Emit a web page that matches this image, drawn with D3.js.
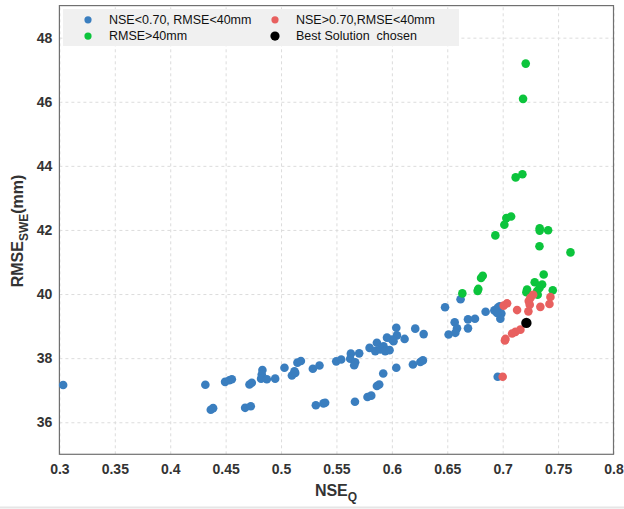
<!DOCTYPE html>
<html>
<head>
<meta charset="UTF-8">
<title>NSE vs RMSE scatter</title>
<script src="https://cdn.jsdelivr.net/npm/d3@7"></script>
<style>
  body { margin: 0; background: #fff; }
  svg { display: block; font-family: "Liberation Sans", Arial, sans-serif; }
  .grid line { stroke: #dcdcdc; stroke-dasharray: 3,3; }
  .grid .domain { display: none; }
  .tick text { font-weight: bold; font-size: 14px; fill: #333; }
</style>
</head>
<body>
<svg width="624" height="509"></svg>
<script>
// [NSE_Q, RMSE_SWE]
var bluePts = [
  [0.3034,37.16],[0.4317,37.17],[0.4366,36.39],[0.4387,36.44],[0.4495,37.26],[0.4534,37.31],
  [0.4556,37.34],[0.4676,36.45],[0.4727,36.50],[0.4715,37.18],[0.4736,37.23],[0.4832,37.63],
  [0.4826,37.49],[0.4820,37.36],[0.4872,37.34],[0.4947,37.36],[0.5031,37.70],[0.5098,37.46],
  [0.5128,37.54],[0.5121,37.59],[0.5148,37.86],[0.5179,37.91],[0.5287,37.67],[0.5347,37.77],
  [0.5498,37.90],[0.5543,37.96],[0.5630,38.14],[0.5624,37.98],[0.5669,37.87],[0.5660,37.78],
  [0.5705,38.15],[0.5799,38.32],[0.5865,38.48],[0.5850,38.22],[0.5895,38.27],[0.5925,38.37],
  [0.5940,38.22],[0.5979,38.25],[0.5956,38.64],[0.6001,38.58],[0.6040,38.95],[0.6046,38.71],
  [0.6015,38.53],[0.6115,38.60],[0.6211,38.92],[0.6287,38.75],[0.5314,36.53],[0.5383,36.59],
  [0.5398,36.61],[0.5667,36.64],[0.5780,36.79],[0.5814,36.83],[0.5865,37.13],[0.5886,37.18],
  [0.5922,37.52],[0.6040,37.70],[0.6190,37.80],[0.6257,37.88],[0.6280,37.93],[0.6480,39.59],
  [0.6620,39.84],[0.6846,39.45],[0.6925,39.49],[0.6955,39.57],[0.6973,39.62],[0.6988,39.39],
  [0.6979,39.23],[0.6949,39.41],[0.6687,39.21],[0.6750,39.23],[0.6687,38.93],[0.6567,39.12],
  [0.6588,38.93],[0.6573,38.79],[0.6512,38.74],[0.6955,37.42]
];
var greenPts = [
  [0.7208,47.19],[0.7184,46.09],[0.7117,43.64],[0.7178,43.74],[0.7033,42.37],[0.7076,42.42],
  [0.7015,42.16],[0.7334,42.05],[0.7410,41.99],[0.7334,41.98],[0.6934,41.83],[0.7332,41.49],
  [0.7612,41.30],[0.6820,40.57],[0.6805,40.50],[0.7370,40.61],[0.6774,40.10],[0.6780,40.16],
  [0.6636,40.02],[0.7289,40.37],[0.7356,40.30],[0.7332,40.19],[0.7220,40.14],[0.7214,40.06],
  [0.7452,40.12],[0.7311,40.09],[0.7316,39.98]
];
var redPts = [
  [0.7040,39.71],[0.7009,39.64],[0.7130,39.50],[0.7232,39.46],[0.7244,39.67],[0.7235,39.78],
  [0.7250,39.88],[0.7275,39.98],[0.7340,39.60],[0.7422,39.69],[0.7431,39.91],[0.7160,38.89],
  [0.7115,38.82],[0.7085,38.77],[0.7025,38.60],[0.7020,38.55],[0.7000,37.42]
];
var bestPt = [[0.7214,39.10]];

var xTicks = [0.3,0.35,0.4,0.45,0.5,0.55,0.6,0.65,0.7,0.75,0.8];
var yTicks = [36,38,40,42,44,46,48];

var legendItems = [
  {label: "NSE<0.70, RMSE<40mm", color: "#3a7ebf", col: 0, row: 0, r: 3.6},
  {label: "NSE>0.70,RMSE<40mm", color: "#e8605f", col: 1, row: 0, r: 3.6},
  {label: "RMSE>40mm", color: "#0cc43c", col: 0, row: 1, r: 3.6},
  {label: "Best Solution  chosen", color: "#000000", col: 1, row: 1, r: 4.6}
];

var svg = d3.select("svg");
var pLeft = 59.4, pRight = 613.5, pTop = 5.6, pBottom = 454.3;

var x = d3.scaleLinear().domain([0.3, 0.8]).range([pLeft, pRight]);
var y = d3.scaleLinear().domain([35, 49]).range([pBottom, pTop]);

// grid
svg.append("g").attr("class", "grid")
  .attr("transform", "translate(0," + pBottom + ")")
  .call(d3.axisBottom(x).tickValues(xTicks).tickSize(-(pBottom - pTop)).tickFormat(""));
svg.append("g").attr("class", "grid")
  .attr("transform", "translate(" + pLeft + ",0)")
  .call(d3.axisLeft(y).tickValues(yTicks).tickSize(-(pRight - pLeft)).tickFormat(""));

// tick labels
var xAxis = svg.append("g")
  .attr("transform", "translate(0," + pBottom + ")")
  .call(d3.axisBottom(x).tickValues(xTicks).tickSize(0).tickPadding(10).tickFormat(d3.format("")));
xAxis.select(".domain").remove();
var yAxis = svg.append("g")
  .attr("transform", "translate(" + pLeft + ",0)")
  .call(d3.axisLeft(y).tickValues(yTicks).tickSize(0).tickPadding(7));
yAxis.select(".domain").remove();

// frame
svg.append("rect")
  .attr("x", pLeft).attr("y", pTop)
  .attr("width", pRight - pLeft).attr("height", pBottom - pTop)
  .attr("fill", "none").attr("stroke", "#707070").attr("stroke-width", 1.2);

// points
function drawPts(data, color, r) {
  svg.append("g").selectAll("circle")
    .data(data).enter().append("circle")
    .attr("cx", function (d) { return x(d[0]); })
    .attr("cy", function (d) { return y(d[1]); })
    .attr("r", r)
    .attr("fill", color);
}
drawPts(bluePts, "#3a7ebf", 4.3);
drawPts(greenPts, "#0cc43c", 4.3);
drawPts(redPts, "#e8605f", 4.3);
drawPts(bestPt, "#000000", 5.2);

// legend
var lg = svg.append("g");
lg.append("rect").attr("x", 63).attr("y", 9).attr("width", 396).attr("height", 37).attr("fill", "#f0f0f0");
var item = lg.selectAll(".li").data(legendItems).enter().append("g")
  .attr("transform", function (d) { return "translate(" + (88 + d.col * 187) + "," + (19.8 + d.row * 16.3) + ")"; });
item.append("circle").attr("r", function (d) { return d.r; }).attr("fill", function (d) { return d.color; });
item.append("text").attr("x", 21).attr("dy", "0.35em")
  .style("font-size", "12.5px").style("fill", "#111").style("white-space", "pre")
  .text(function (d) { return d.label; });

// axis titles
var xt = svg.append("text").attr("x", 336).attr("y", 496)
  .attr("text-anchor", "middle").style("font-size", "16px").style("font-weight", "bold").style("fill", "#333");
xt.append("tspan").text("NSE");
xt.append("tspan").attr("dy", 5).style("font-size", "12px").text("Q");

var yt = svg.append("text")
  .attr("transform", "translate(23,231) rotate(-90)")
  .attr("text-anchor", "middle").style("font-size", "16px").style("font-weight", "bold").style("fill", "#333");
yt.append("tspan").text("RMSE");
yt.append("tspan").attr("dy", 5).style("font-size", "12px").text("SWE");
yt.append("tspan").attr("dy", -5).text("(mm)");

// bottom edge of figure
svg.append("line").attr("x1", 0).attr("x2", 624).attr("y1", 507.5).attr("y2", 507.5)
  .attr("stroke", "#e6e6e6").attr("stroke-width", 2);
</script>
</body>
</html>
